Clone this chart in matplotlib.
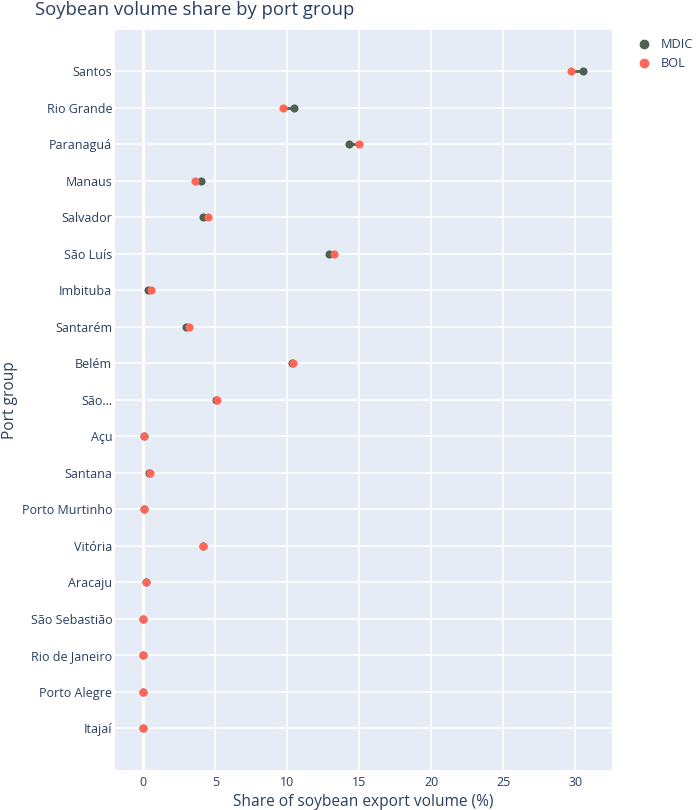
import matplotlib
matplotlib.use("Agg")
import matplotlib.pyplot as plt
from matplotlib.lines import Line2D

plt.rcParams["font.family"] = ["Open Sans", "DejaVu Sans"]

ports = ["Santos", "Rio Grande", "Paranaguá", "Manaus", "Salvador", "São Luís",
         "Imbituba", "Santarém", "Belém", "São...", "Açu", "Santana",
         "Porto Murtinho", "Vitória", "Aracaju", "São Sebastião",
         "Rio de Janeiro", "Porto Alegre", "Itajaí"]
mdic = [30.56, 10.47, 14.3, 4.03, 4.17, 12.92, 0.33, 2.99, 10.3, 5.02, 0.05, 0.42,
        0.02, 4.17, 0.19, 0.0, 0.0, 0.0, 0.0]
bol = [29.7, 9.72, 15.0, 3.57, 4.47, 13.22, 0.53, 3.17, 10.42, 5.1, 0.05, 0.44,
       0.02, 4.17, 0.19, 0.0, 0.0, 0.0, 0.0]

TXT = "#2a3f5f"
C_MDIC = "#4d6151"
C_BOL = "#ff6655"

fig = plt.figure(figsize=(7, 8.1), dpi=100)
ax = fig.add_axes([0.1643, 0.0494, 0.7096, 0.9136])
ax.set_facecolor("#e5ecf6")
for s in ax.spines.values():
    s.set_visible(False)

ypos = list(range(len(ports)))
for y, a, b in zip(ypos, mdic, bol):
    ax.plot([a, b], [y, y], color=C_MDIC, lw=2, zorder=3, solid_capstyle="butt")
ax.scatter(mdic, ypos, s=34, color=C_MDIC, zorder=4, linewidths=0, label="MDIC")
ax.scatter(bol, ypos, s=34, color=C_BOL, zorder=5, linewidths=0, label="BOL")

ax.set_xlim(-1.97, 32.53)
ax.set_ylim(18 + 1.14, -1.13)
ax.set_yticks(ypos)
ax.set_yticklabels(ports)
ax.set_xticks([0, 5, 10, 15, 20, 25, 30])
ax.grid(True, color="white", lw=1.1, zorder=0)
ax.set_axisbelow(True)
ax.axvline(0, color="white", lw=2.2, zorder=1)
ax.tick_params(axis="y", length=0, labelsize=9, colors=TXT, pad=2)
ax.tick_params(axis="x", length=0, labelsize=9, colors=TXT, pad=4)

fig.text(363 / 700, 1 - 802 / 810, "Share of soybean export volume (%)", fontsize=11.2,
         color=TXT, ha="center", va="center")
fig.text(10 / 700, 1 - 400 / 810, "Port group", fontsize=11.2, color=TXT,
         ha="center", va="center", rotation=90)
fig.text(35 / 700, 1 - 10 / 810, "Soybean volume share by port group", fontsize=13.3,
         color=TXT, ha="left", va="center")

handles = [Line2D([], [], marker="o", ls="", color=C_MDIC, markersize=6),
           Line2D([], [], marker="o", ls="", color=C_BOL, markersize=6)]
leg = fig.legend(handles, ["MDIC", "BOL"], loc="upper left",
                 bbox_to_anchor=(0.895, 0.967), frameon=False, fontsize=9.2,
                 handletextpad=0.8, labelspacing=0.45, handlelength=1.0)
for t in leg.get_texts():
    t.set_color(TXT)

fig.savefig("out.png", dpi=100, facecolor="white")
